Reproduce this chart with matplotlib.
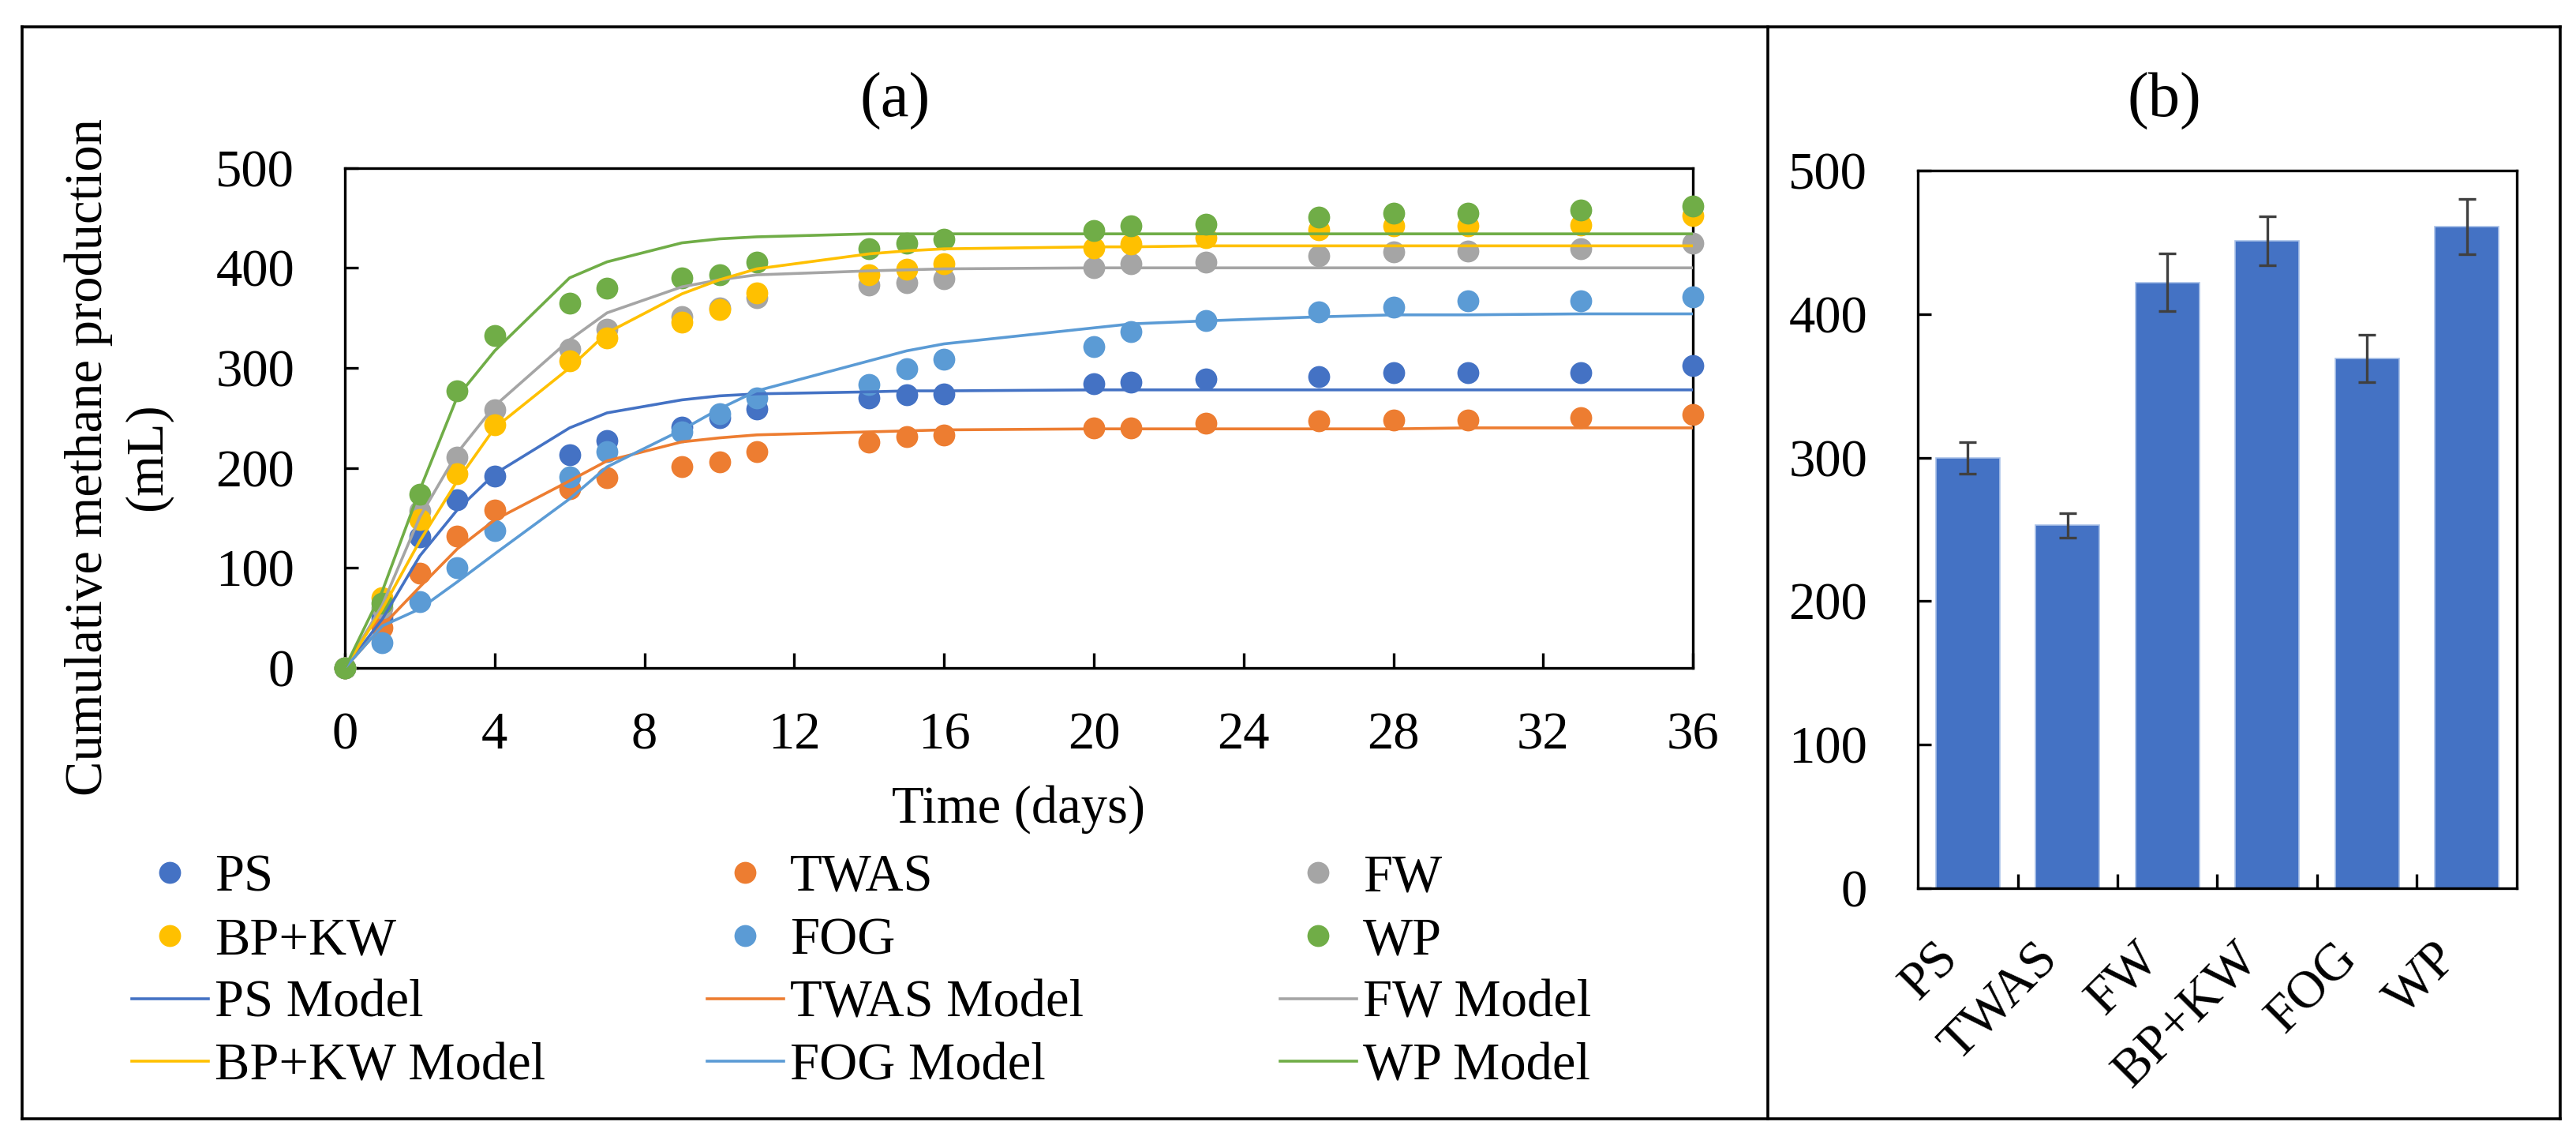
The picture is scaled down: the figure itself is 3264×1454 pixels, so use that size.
import matplotlib
matplotlib.use("Agg")
import matplotlib.pyplot as plt
from matplotlib.lines import Line2D

plt.rcParams['font.family'] = ['Liberation Serif', 'DejaVu Serif']

# measured days
days = [0, 1, 2, 3, 4, 6, 7, 9, 10, 11, 14, 15, 16, 20, 21, 23, 26, 28, 30, 33, 36]

# cumulative methane (mL), measured
ps = [0, 50, 131, 168, 192, 213, 227, 241, 250, 259, 270, 273, 274, 284, 286, 289, 291, 295, 295, 295, 302]
twas = [0, 40, 95, 132, 158, 179, 190, 201, 206, 216, 226, 231, 233, 240, 240, 245, 247, 248, 248, 250, 253]
fw = [0, 60, 157, 211, 258, 319, 339, 351, 360, 370, 383, 385, 389, 400, 404, 406, 412, 416, 417, 419, 425]
bpkw = [0, 70, 148, 194, 243, 307, 330, 346, 358, 375, 393, 399, 404, 420, 424, 430, 438, 442, 442, 443, 452]
fog = [0, 25, 66, 100, 137, 191, 216, 236, 254, 270, 283, 299, 309, 321, 336, 347, 356, 361, 367, 367, 371]
wp = [0, 65, 174, 277, 332, 365, 380, 390, 393, 406, 419, 425, 429, 437, 442, 444, 451, 455, 455, 458, 462]

# model curves, same days
ps_model = [0, 49, 112, 158, 194, 240, 255, 268, 272, 274, 276, 277, 277, 278, 278, 278, 278, 278, 278, 278, 278]
twas_model = [0, 42, 81, 119, 148, 187, 207, 226, 230, 233, 236, 237, 238, 239, 239, 239, 239, 239, 240, 240, 240]
fw_model = [0, 63, 151, 215, 262, 328, 355, 381, 388, 393, 397, 398, 399, 400, 400, 400, 400, 400, 400, 400, 400]
bpkw_model = [0, 59, 127, 187, 240, 300, 335, 374, 388, 399, 414, 417, 419, 421, 421, 422, 422, 422, 422, 422, 422]
fog_model = [0, 42, 59, 86, 114, 169, 201, 238, 259, 277, 307, 317, 324, 340, 344, 347, 351, 353, 353, 354, 354]
wp_model = [0, 77, 178, 271, 317, 390, 406, 425, 429, 431, 434, 434, 434, 434, 434, 434, 434, 434, 434, 434, 434]

# panel (b): final methane yield
cats = ["PS", "TWAS", "FW", "BP+KW", "FOG", "WP"]
final_mean = [300, 253, 422, 451, 369, 461]
final_err = [11, 8.5, 20, 17, 16.5, 19.5]

colors = {"PS": "#4472C4", "TWAS": "#ED7D31", "FW": "#A5A5A5",
          "BP+KW": "#FFC000", "FOG": "#5B9BD5", "WP": "#70AD47"}

measured = {"PS": ps, "TWAS": twas, "FW": fw, "BP+KW": bpkw, "FOG": fog, "WP": wp}
models = {"PS": ps_model, "TWAS": twas_model, "FW": fw_model,
          "BP+KW": bpkw_model, "FOG": fog_model, "WP": wp_model}

FS = 24

fig = plt.figure(figsize=(16.32, 7.27), dpi=200)

# ---- panel (a)
ax = fig.add_axes([0.1339, 0.4182, 0.6572 - 0.1339, 0.8538 - 0.4182])
handles = {}
for name in cats:
    h, = ax.plot(days, measured[name], 'o', color=colors[name], markersize=10,
                 markeredgewidth=0, clip_on=False, zorder=3)
    handles[name] = h
for name in cats:
    h, = ax.plot(days, models[name], '-', color=colors[name], linewidth=1.3, zorder=4)
    handles[name + " Model"] = h

ax.set_xlim(0, 36)
ax.set_ylim(0, 500)
ax.set_xticks(range(0, 37, 4))
ax.set_yticks(range(0, 501, 100))
ax.tick_params(axis='x', direction='in', length=7, width=1.2, pad=20, labelsize=FS)
ax.tick_params(axis='y', direction='in', length=6, width=1.2, pad=23, labelsize=FS)
for s in ax.spines.values():
    s.set_linewidth(1.2)

fig.text(1291 / 3264, 1 - 1042 / 1454, "Time (days)", ha='center', va='baseline', fontsize=FS)
fig.text(150 / 3264, 1 - 579 / 1454, "Cumulative methane production\n(mL)",
         ha='center', va='center', rotation=90, fontsize=FS, linespacing=1.3)
fig.text(1134 / 3264, 1 - 128 / 1454, "(a)", ha='center', va='center', fontsize=29)

# legend laid out as three columns, filled row by row
cols = [["PS", "BP+KW", "PS Model", "BP+KW Model"],
        ["TWAS", "FOG", "TWAS Model", "FOG Model"],
        ["FW", "WP", "FW Model", "WP Model"]]
col_x = [167, 896, 1622]
for cx, labels in zip(col_x, cols):
    fig.legend([handles[l] for l in labels], labels, loc='center left',
               bbox_to_anchor=(cx / 3264, 1 - 1231.5 / 1454), frameon=False,
               fontsize=FS, handlelength=1.45, handletextpad=0.12,
               labelspacing=0.28, borderpad=0, borderaxespad=0)

# ---- panel (b)
ax2 = fig.add_axes([0.7445, 0.2263, 0.9770 - 0.7445, 0.8514 - 0.2263])
xpos = range(len(cats))
ax2.bar(xpos, final_mean, width=0.64, color="#4472C4", edgecolor="#A9C1E8", linewidth=0.6,
        yerr=final_err, capsize=4,
        error_kw=dict(ecolor="#404040", elinewidth=1.2, capthick=1.2))
ax2.set_xlim(-0.5, len(cats) - 0.5)
ax2.set_ylim(0, 500)
ax2.set_yticks(range(0, 501, 100))
ax2.set_xticks(list(xpos))
ax2.set_xticklabels(cats, rotation=45, ha='right')
ax2.set_xticks([i + 0.5 for i in range(len(cats) - 1)], minor=True)
ax2.tick_params(axis='x', which='major', length=0, pad=21, labelsize=FS)
ax2.tick_params(axis='x', which='minor', direction='in', length=6.5, width=1.2)
ax2.tick_params(axis='y', direction='in', length=6, width=1.2, pad=23, labelsize=FS)
for s in ax2.spines.values():
    s.set_linewidth(1.2)
fig.text(2742 / 3264, 1 - 128 / 1454, "(b)", ha='center', va='center', fontsize=29)

# outer frame and divider
L, R, T, B, D = 28 / 3264, 3244 / 3264, 1 - 34 / 1454, 1 - 1417 / 1454, 2240 / 3264
for xs, ys in [([L, R], [T, T]), ([L, R], [B, B]), ([L, L], [B, T]),
               ([R, R], [B, T]), ([D, D], [B, T])]:
    fig.add_artist(Line2D(xs, ys, color='black', linewidth=1.3, transform=fig.transFigure))

fig.savefig("out.png", dpi=200)
